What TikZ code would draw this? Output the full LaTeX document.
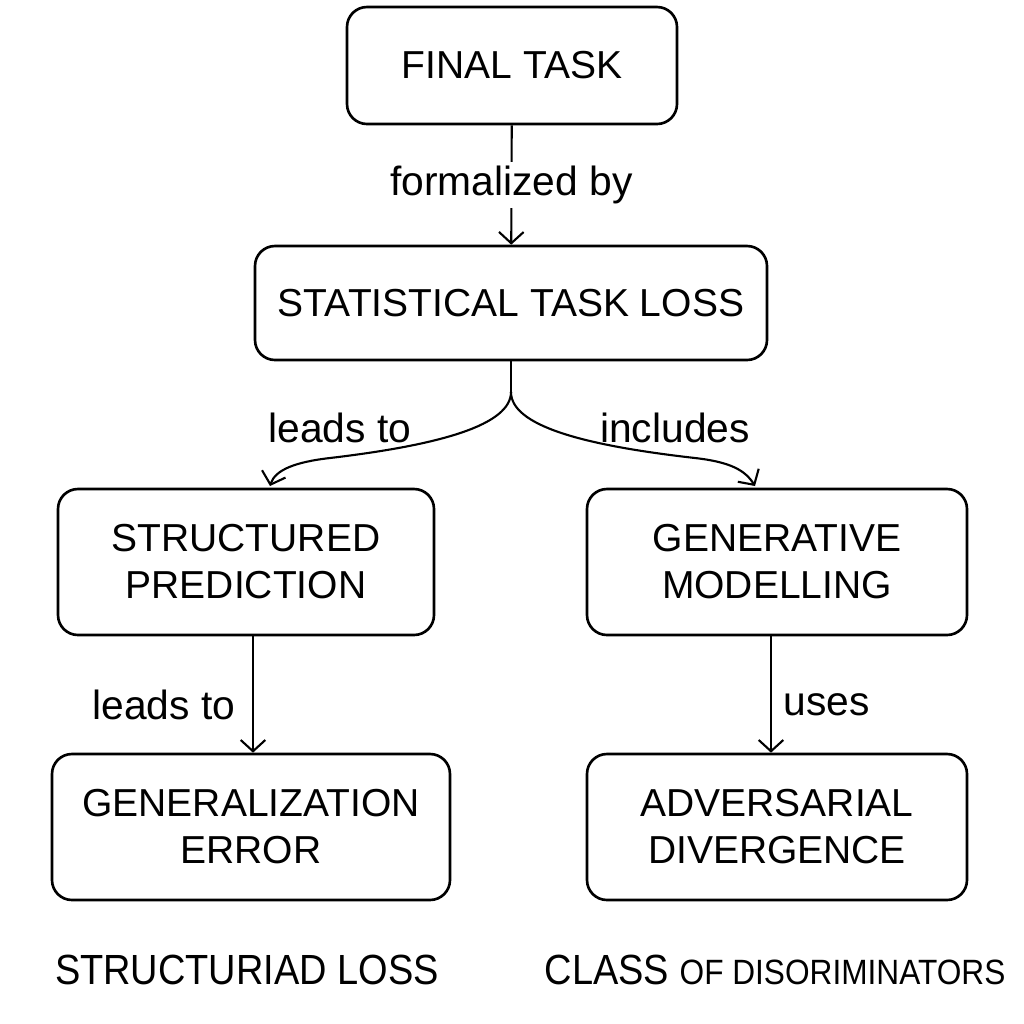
\documentclass[tikz,border=0pt]{standalone}
\usepackage{fontspec}
\setmainfont{Liberation Sans}
\usetikzlibrary{arrows.meta}

\begin{document}
\begin{tikzpicture}[
    box/.style={draw,line width=0.75pt,rounded corners=0.2cm,align=center,
      font=\fontsize{11.1}{13.4}\selectfont},
    lbl/.style={font=\fontsize{11.6}{13}\selectfont},
    >={Straight Barb[length=3.2pt,width=7pt]},
    every path/.style={line width=0.6pt}
  ]
      \useasboundingbox (0,0) rectangle (10.24,-10.24);

      \node[box,minimum width=3.30cm,minimum height=1.17cm] (1) at (5.12,-0.655) {FINAL TASK};
      \node[box,minimum width=5.12cm,minimum height=1.14cm] (2) at (5.11,-3.03) {STATISTICAL TASK LOSS};
      \node[box,minimum width=3.76cm,minimum height=1.46cm] (3) at (2.46,-5.62) {STRUCTURED\\PREDICTION};
      \node[box,minimum width=3.80cm,minimum height=1.46cm] (4) at (7.77,-5.62) {GENERATIVE\\MODELLING};
      \node[box,minimum width=3.98cm,minimum height=1.46cm] (5) at (2.51,-8.27) {GENERALIZATION\\ERROR};
      \node[box,minimum width=3.80cm,minimum height=1.46cm] (6) at (7.77,-8.27) {ADVERSARIAL\\DIVERGENCE};

      \node[lbl] (7) at (2.47,-9.70) {\scalebox{0.9}[1]{\fontsize{12}{14}\selectfont STRUCTURIAD LOSS}};
      \node[lbl] (8) at (7.75,-9.70) {\scalebox{0.9}[1]{\fontsize{12}{14}\selectfont CLASS {\fontsize{10}{12}\selectfont OF DISORIMINATORS}}};

      \coordinate (b) at (5.11,-3.92);
      \coordinate (l) at (2.70,-4.86);
      \coordinate (r) at (7.55,-4.86);

      \draw[->] (1) -- node[lbl,fill=white,inner sep=1pt] {formalized by} (2);
      \draw (2.south) -- (b);
      \draw[->] (b) .. controls (5.11,-4.25) and (4.40,-4.45) .. (3.30,-4.58)
        .. controls (2.95,-4.62) and (2.75,-4.70) .. (l);
      \draw[->] (b) .. controls (5.11,-4.25) and (5.80,-4.45) .. (6.95,-4.58)
        .. controls (7.30,-4.62) and (7.45,-4.70) .. (r);
      \node[lbl] (9) at (3.40,-4.28) {leads to};
      \node[lbl] (10) at (6.75,-4.28) {includes};

      \draw[->] (3.south -| 2.53,0) -- node[lbl,left,xshift=-0.05cm,yshift=-0.1cm] {leads to} (5.north -| 2.53,0);
      \draw[->] (4.south -| 7.71,0) -- node[lbl,right,yshift=-0.1cm] {uses} (6.north -| 7.71,0);
    \end{tikzpicture}
\end{document}
